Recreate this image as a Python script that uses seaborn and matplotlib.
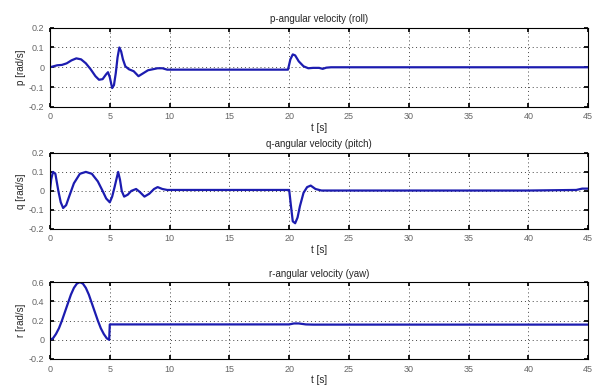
import matplotlib
matplotlib.use("Agg")
import matplotlib.pyplot as plt
import seaborn as sns
import pandas as pd

# Angular velocity traces (time in seconds, rate in rad/s)
p_t = [0, 0.3, 0.6, 1.0, 1.4, 1.8, 2.2, 2.6, 3.0, 3.4, 3.8, 4.1, 4.4, 4.7, 4.85,
       5.0, 5.2, 5.35, 5.5, 5.65, 5.8, 5.95, 6.1, 6.3, 6.6, 7.0, 7.4, 7.8, 8.2,
       8.6, 9.0, 9.4, 9.8, 10.5, 15, 19.9, 20.1, 20.3, 20.5, 20.8, 21.2, 21.6,
       22.0, 22.5, 22.8, 23.1, 23.5, 25, 30, 35, 40, 45]
p_val = [0, 0.005, 0.01, 0.012, 0.02, 0.035, 0.045, 0.04, 0.02, -0.01, -0.045,
         -0.063, -0.06, -0.035, -0.025, -0.05, -0.105, -0.09, -0.03, 0.05, 0.1,
         0.08, 0.04, 0.005, -0.01, -0.02, -0.045, -0.03, -0.015, -0.01, -0.005,
         -0.005, -0.012, -0.012, -0.012, -0.012, 0.04, 0.065, 0.06, 0.03, 0.005,
         -0.005, -0.003, -0.003, -0.008, -0.002, 0.0, 0.0, 0.0, 0.0, 0.0, 0.0]

q_t = [0, 0.1, 0.25, 0.45, 0.7, 0.9, 1.1, 1.35, 1.6, 2.0, 2.5, 3.0, 3.5, 4.0,
       4.4, 4.7, 5.0, 5.2, 5.4, 5.55, 5.7, 5.85, 6.0, 6.2, 6.5, 6.8, 7.2, 7.5,
       7.9, 8.3, 8.7, 9.0, 9.4, 9.8, 10.5, 15, 20.0, 20.15, 20.3, 20.5, 20.7,
       20.9, 21.2, 21.5, 21.8, 22.2, 22.7, 25, 30, 35, 40, 44, 44.5, 45]
q_val = [0, 0.06, 0.1, 0.09, 0.0, -0.06, -0.09, -0.075, -0.03, 0.04, 0.09, 0.1,
         0.09, 0.05, 0.0, -0.04, -0.06, -0.03, 0.02, 0.06, 0.1, 0.06, 0.0, -0.03,
         -0.02, 0.0, 0.01, -0.005, -0.03, -0.015, 0.01, 0.02, 0.01, 0.005, 0.005,
         0.005, 0.005, -0.08, -0.16, -0.17, -0.14, -0.08, -0.01, 0.02, 0.028,
         0.01, 0.002, 0.002, 0.002, 0.002, 0.002, 0.005, 0.012, 0.012]

r_t = [0, 0.25, 0.5, 0.75, 1.0, 1.25, 1.5, 1.75, 2.0, 2.25, 2.5, 2.75, 3.0, 3.25,
       3.5, 3.75, 4.0, 4.25, 4.5, 4.75, 4.95, 5.0, 5.2, 10, 15, 20, 20.4, 20.8,
       21.4, 22, 25, 30, 35, 40, 45]
r_val = [0, 0.015, 0.06, 0.12, 0.2, 0.29, 0.38, 0.47, 0.54, 0.585, 0.6, 0.585,
         0.54, 0.47, 0.38, 0.29, 0.2, 0.12, 0.06, 0.015, 0.0, 0.16, 0.16, 0.16,
         0.16, 0.16, 0.17, 0.17, 0.16, 0.158, 0.158, 0.158, 0.158, 0.158, 0.158]

titles = ["p-angular velocity (roll)", "q-angular velocity (pitch)",
          "r-angular velocity (yaw)"]
ylabels = ["p [rad/s]", "q [rad/s]", "r [rad/s]"]
x_ticks = [0, 5, 10, 15, 20, 25, 30, 35, 40, 45]
y_ticks_pq = [-0.2, -0.1, 0, 0.1, 0.2]
y_tick_labels_pq = ["-0.2", "-0.1", "0", "0.1", "0.2"]
y_ticks_r = [-0.2, 0, 0.2, 0.4, 0.6]
y_tick_labels_r = ["-0.2", "0", "0.2", "0.4", "0.6"]

sns.set_theme(style="white")
plt.rcParams["font.family"] = ["Liberation Sans", "DejaVu Sans"]

fig = plt.figure(figsize=(6.0, 3.9), dpi=100)
positions = [
    [0.0833, 0.726, 0.897, 0.203],
    [0.0833, 0.413, 0.897, 0.195],
    [0.0833, 0.0795, 0.897, 0.197],
]
series = [(p_t, p_val), (q_t, q_val), (r_t, r_val)]
yticks = [(y_ticks_pq, y_tick_labels_pq), (y_ticks_pq, y_tick_labels_pq),
          (y_ticks_r, y_tick_labels_r)]
line_color = "#1c1cb0"

for pos, (t, v), title, ylab, (yt, ytl) in zip(positions, series, titles,
                                                ylabels, yticks):
    ax = fig.add_axes(pos)
    df = pd.DataFrame({"t": t, "v": v})
    sns.lineplot(data=df, x="t", y="v", ax=ax, color=line_color, linewidth=1.6)
    ax.set_xlim(0, 45)
    ax.set_ylim(yt[0], yt[-1])
    ax.set_xticks(x_ticks)
    ax.set_xticklabels([str(x) for x in x_ticks])
    ax.set_yticks(yt)
    ax.set_yticklabels(ytl)
    ax.grid(True, linestyle=(0, (1, 3)), color="#444444", linewidth=0.7)
    ax.tick_params(direction="in", length=3, labelsize=6.5, colors="black",
                   labelcolor="#666666", pad=4, top=True, right=True,
                   bottom=True, left=True)
    for s in ax.spines.values():
        s.set_color("black")
        s.set_linewidth(0.8)
    ax.set_title(title, fontsize=7, pad=4)
    ax.set_xlabel("t [s]", fontsize=7, labelpad=1)
    ax.set_ylabel(ylab, fontsize=7, labelpad=2)

fig.savefig("out.png", dpi=100)
